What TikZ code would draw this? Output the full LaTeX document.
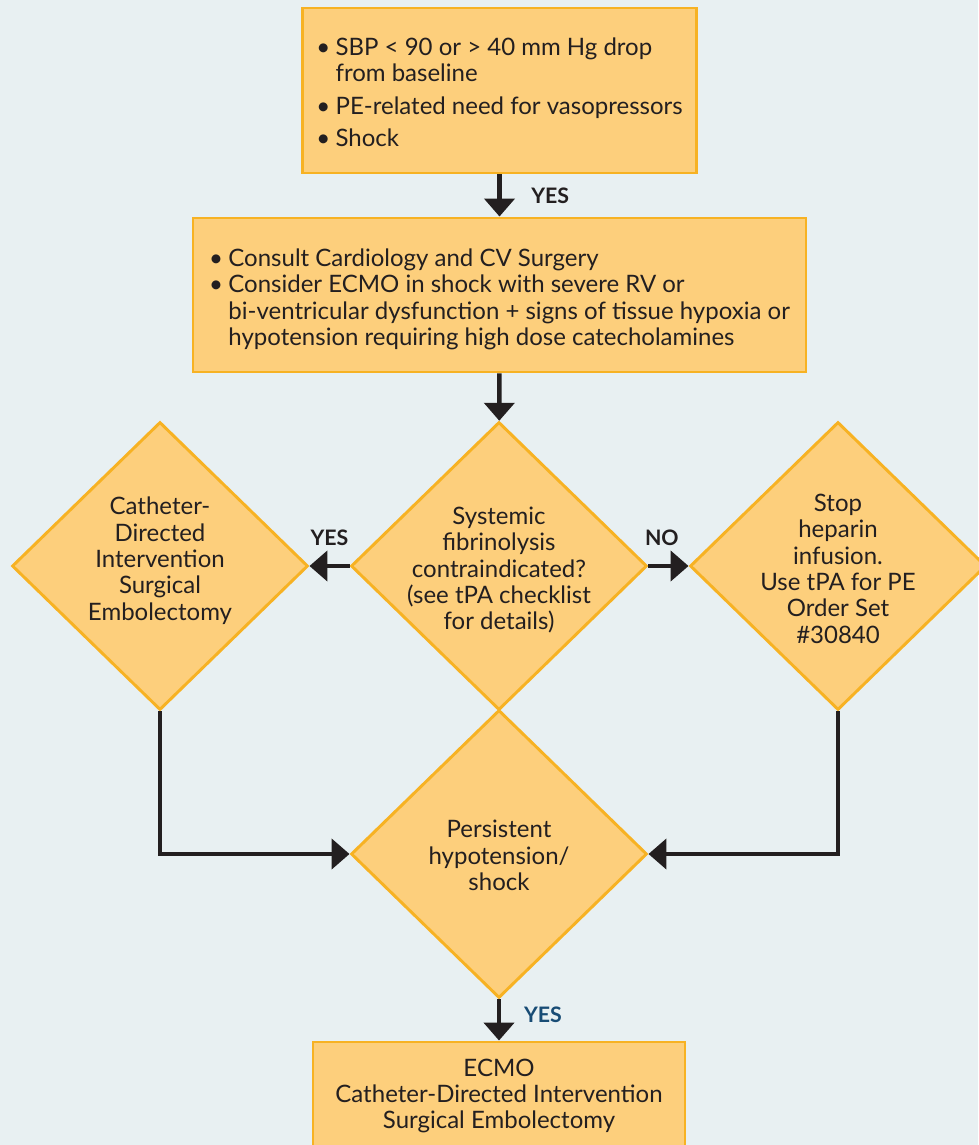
\documentclass[tikz,border=0pt]{standalone}
\usepackage{fontspec}
\setmainfont{Lato}
\usetikzlibrary{shapes.geometric,arrows.meta,positioning}
\definecolor{bgblue}{RGB}{232,240,242}
\definecolor{boxfill}{RGB}{253,207,124}
\definecolor{boxline}{RGB}{247,178,35}
\definecolor{ink}{RGB}{35,31,32}
\definecolor{yesblue}{RGB}{24,76,117}
\begin{document}
\begin{tikzpicture}[x=0.75pt, y=-0.75pt, node distance={254.25pt},
	box/.style = {draw=boxline, fill=boxfill, line width=2.2pt, text=ink, font=\fontsize{18}{19.8}\selectfont},
	dia/.style = {draw=boxline, fill=boxfill, line width=2.2pt, diamond, minimum width=222pt, minimum height=216pt, inner sep=0pt},
	txt/.style = {text=ink, align=center, font=\fontsize{18}{19.8}\selectfont},
	arr/.style = {draw=ink, line width=3.4pt, -{Triangle[width=22.5pt, length=13.5pt]}},
	lab/.style = {text=ink, font=\bfseries\fontsize{16}{18}\selectfont}]
		\fill[bgblue] (0,0) rectangle (978,1145);
		\useasboundingbox (0,0) rectangle (978,1145);
		\node[box, minimum width=296pt, minimum height=123.75pt] (crit) at (499.5,90.5) {\begin{tabular}{@{}l@{\hspace{4pt}}l@{}}
			\rule{0pt}{21.5pt}\textbullet & SBP < 90 or > 40 mm Hg drop\\
			& from baseline\\[4.5pt]
			\textbullet & PE-related need for vasopressors\\[4.5pt]
			\textbullet & Shock
		\end{tabular}};
		\node[box, minimum width=459.75pt, minimum height=115.5pt] (cons) at (499.5,295) {\begin{tabular}{@{}l@{\hspace{4pt}}l@{}}
			\rule{0pt}{22.5pt}\textbullet & Consult Cardiology and CV Surgery\\
			\textbullet & Consider ECMO in shock with severe RV or\\
			& bi-ventricular dysfunction + signs of tissue hypoxia or\\
			& hypotension requiring high dose catecholamines
		\end{tabular}};
		\node[dia, label={[txt, yshift=-3pt]center:{Systemic\\fibrinolysis\\contraindicated?\\(see tPA checklist\\for details)}}] (fib) at (499,566) {};
		\node[dia, left of=fib, label={[txt, yshift=4pt]center:{Catheter-\\Directed\\Intervention\\Surgical\\Embolectomy}}] (cdi) {};
		\node[dia, right of=fib, label={[txt, yshift=-2pt]center:{Stop\\heparin\\infusion.\\Use tPA for PE\\Order Set\\\#30840}}] (stop) {};
		\node[dia, label={[txt, yshift=-1pt]center:{Persistent\\hypotension/\\shock}}] (pers) at (499,854) {};
		\node[box, minimum width=279pt, minimum height=81pt, align=center] (ecmo) at (499,1096) {ECMO\\Catheter-Directed Intervention\\Surgical Embolectomy};
		\draw[arr] (crit) -- node[lab, xshift=38pt] {YES} (cons);
		\draw[arr] (cons) -- (fib);
		\draw[arr] (fib) -- node[lab, yshift=21pt] {YES} (cdi);
		\draw[arr] (fib) -- node[lab, xshift=-5pt, yshift=21pt] {NO} (stop);
		\draw[arr] (cdi) |- (pers);
		\draw[arr] (stop) |- (pers);
		\draw[arr] (pers) -- node[lab, text=yesblue, xshift=33pt, yshift=4pt] {YES} (ecmo);
	\end{tikzpicture}
\end{document}
